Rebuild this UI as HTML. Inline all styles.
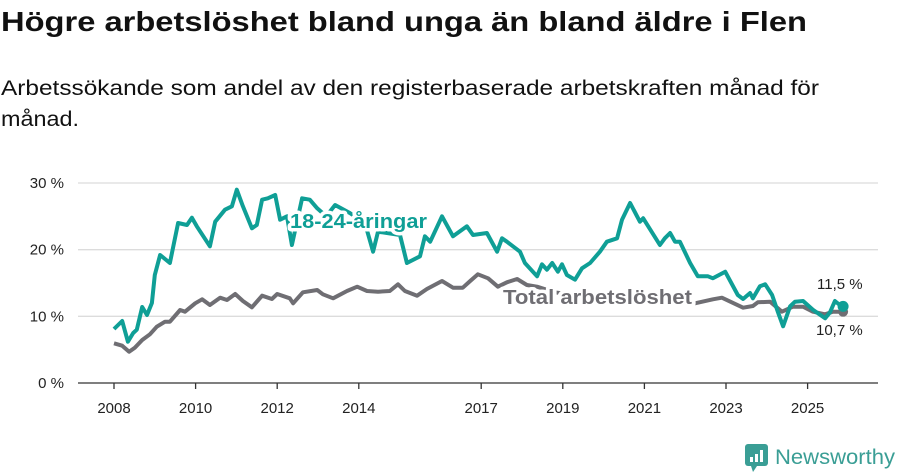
<!DOCTYPE html>
<html><head><meta charset="utf-8"><style>
html,body{margin:0;padding:0;background:#fff;}
svg{display:block;font-family:"Liberation Sans","DejaVu Sans",sans-serif;}
</style></head><body>
<svg id="chart" width="900" height="474" viewBox="0 0 900 474" xmlns="http://www.w3.org/2000/svg">
<text x="1" y="31" font-size="28" font-weight="bold" fill="#111" textLength="806" lengthAdjust="spacingAndGlyphs">Högre arbetslöshet bland unga än bland äldre i Flen</text>
<text x="1" y="95" font-size="21" fill="#111" textLength="818" lengthAdjust="spacingAndGlyphs">Arbetssökande som andel av den registerbaserade arbetskraften månad för</text>
<text x="1" y="126" font-size="21" fill="#111" textLength="78" lengthAdjust="spacingAndGlyphs">månad.</text>
<g id="grid"></g>
<g id="yticks"></g>
<g id="xaxis"></g>
<g id="series"></g>
<g id="labels"></g>
<g>
<rect x="745" y="444" width="23" height="22" rx="3" fill="#3a9e95"/>
<polygon points="751,466 757,466 753,472" fill="#3a9e95"/>
<rect x="750" y="457" width="3" height="5" fill="#fff"/><rect x="755" y="454" width="3" height="8" fill="#fff"/><rect x="760" y="450" width="3" height="12" fill="#fff"/>
<text x="775" y="464" font-size="21" fill="#3a9e95" textLength="120" lengthAdjust="spacingAndGlyphs">Newsworthy</text>
</g>
</svg>
<script>
const yTicks=[0,10,20,30];
const xTickYears=[2008,2010,2012,2014,2017,2019,2021,2023,2025];
const youthDates=[2008.0,2008.2,2008.34,2008.47,2008.56,2008.69,2008.81,2008.93,2009.0,2009.13,2009.37,2009.57,2009.79,2009.91,2010.03,2010.35,2010.48,2010.72,2010.89,2011.01,2011.16,2011.38,2011.5,2011.63,2011.77,2011.95,2012.07,2012.24,2012.36,2012.61,2012.8,2012.98,2013.2,2013.42,2013.78,2014.15,2014.35,2014.47,2015.01,2015.18,2015.5,2015.62,2015.75,2016.04,2016.31,2016.65,2016.8,2017.14,2017.39,2017.51,2017.63,2017.95,2018.07,2018.37,2018.49,2018.61,2018.74,2018.88,2018.98,2019.1,2019.3,2019.47,2019.67,2019.91,2020.08,2020.33,2020.45,2020.65,2020.89,2020.97,2021.38,2021.5,2021.63,2021.75,2021.87,2022.12,2022.31,2022.56,2022.68,2022.98,2023.29,2023.42,2023.59,2023.66,2023.83,2023.96,2024.13,2024.27,2024.4,2024.57,2024.69,2024.89,2025.13,2025.43,2025.55,2025.67,2025.79,2025.87];
const youthValues=[8.1,9.3,6.2,7.5,8.0,11.4,10.2,12.0,16.2,19.2,18.0,24.0,23.7,24.8,23.5,20.5,24.2,26.0,26.5,29.0,26.5,23.2,23.7,27.5,27.7,28.2,24.5,25.0,20.7,27.7,27.5,26.2,25.0,26.7,25.5,24.0,19.7,22.7,22.2,18.0,19.0,22.0,21.2,25.0,22.0,23.5,22.2,22.5,19.7,21.7,21.2,19.7,18.0,16.0,17.8,17.0,18.0,16.7,17.8,16.2,15.5,17.2,18.0,19.7,21.2,21.7,24.5,27.0,24.2,24.7,20.7,21.7,22.5,21.2,21.2,18.0,16.0,16.0,15.7,16.7,13.2,12.6,13.5,12.7,14.5,14.8,13.2,10.7,8.5,11.5,12.2,12.3,11.0,9.7,10.6,12.3,11.7,11.5];
const totalDates=[2008.0,2008.2,2008.37,2008.51,2008.69,2008.88,2009.05,2009.25,2009.37,2009.62,2009.74,2009.99,2010.16,2010.35,2010.6,2010.77,2010.97,2011.16,2011.38,2011.63,2011.87,2012.0,2012.31,2012.39,2012.63,2012.98,2013.12,2013.37,2013.71,2013.96,2014.2,2014.47,2014.76,2014.96,2015.13,2015.43,2015.67,2016.04,2016.31,2016.55,2016.73,2016.92,2017.17,2017.41,2017.63,2017.88,2018.12,2018.37,2018.8,2019.3,2019.8,2020.3,2020.8,2021.3,2021.8,2022.1,2022.24,2022.68,2022.9,2023.42,2023.66,2023.78,2024.08,2024.37,2024.64,2024.89,2025.13,2025.43,2025.62,2025.87];
const totalValues=[5.95,5.6,4.7,5.3,6.45,7.3,8.45,9.2,9.2,10.95,10.7,11.95,12.55,11.7,12.8,12.45,13.35,12.3,11.35,13.1,12.6,13.35,12.7,11.95,13.6,13.95,13.3,12.7,13.8,14.45,13.8,13.7,13.8,14.8,13.8,13.1,14.1,15.3,14.3,14.3,15.3,16.3,15.7,14.45,15.1,15.6,14.7,14.45,13.6,13.2,12.9,13.2,13.6,13.2,12.7,12.2,11.95,12.55,12.8,11.3,11.55,12.1,12.2,10.7,11.45,11.45,10.7,10.3,10.7,10.7];
const youthLast=11.5, totalLast=10.7;

const NS='http://www.w3.org/2000/svg';
const X0=114,PXY=40.8,Y0=383,PXV=200/30;
function xs(d){return X0+(d-2008)*PXY;}
function ys(v){return Y0-v*PXV;}
function mk(tag,attrs,parent){const e=document.createElementNS(NS,tag);for(const k in attrs)e.setAttribute(k,attrs[k]);parent.appendChild(e);return e;}
const grid=document.getElementById('grid'),yt=document.getElementById('yticks'),xa=document.getElementById('xaxis'),ser=document.getElementById('series'),lab=document.getElementById('labels');
yTicks.forEach(v=>{
  if(v>0){const l=mk('line',{x1:78,x2:878,y1:ys(v),y2:ys(v),stroke:'#dcdcdc','stroke-width':1.3},grid);
  
  }
  const t=mk('text',{x:64,y:ys(v)+5,'font-size':15,fill:'#222','text-anchor':'end'},yt);
  t.textContent=v+' %';
  
  
});
const ax=mk('line',{x1:78,x2:878,y1:Y0,y2:Y0,stroke:'#333','stroke-width':1.3},xa);


xTickYears.forEach(y=>{
  const tk=mk('line',{x1:xs(y),x2:xs(y),y1:Y0,y2:Y0+6,stroke:'#333','stroke-width':1.3},xa);
  
  
  const t=mk('text',{x:xs(y),y:413,'font-size':15,fill:'#222','text-anchor':'middle'},xa);
  t.textContent=y;
  
  
});
function path(ds,vs){return ds.map((d,i)=>(i?'L':'M')+xs(d).toFixed(1)+','+ys(vs[i]).toFixed(1)).join('');}
const tl=mk('path',{d:path(totalDates,totalValues),fill:'none',stroke:'#6f6e73','stroke-width':4,'stroke-linejoin':'round'},ser);


const yl=mk('path',{d:path(youthDates,youthValues),fill:'none',stroke:'#0f9f96','stroke-width':4,'stroke-linejoin':'round'},ser);


const lastD=youthDates[youthDates.length-1];
const tdot=mk('circle',{cx:xs(totalDates[totalDates.length-1]),cy:ys(totalLast),r:5,fill:'#6f6e73'},ser);


const ydot=mk('circle',{cx:xs(lastD),cy:ys(youthLast),r:5.5,fill:'#0f9f96'},ser);


function label(txt,x,y,size,fill,bold,name,halo,len){
  const extra=len?{textLength:len,lengthAdjust:'spacingAndGlyphs'}:{};
  if(halo){const h=mk('text',Object.assign({x:x,y:y,'font-size':size,'font-weight':bold?'bold':'normal',fill:'#fff',stroke:'#fff','stroke-width':7,'stroke-linejoin':'round'},extra),lab);h.textContent=txt;
  
  }
  const t=mk('text',Object.assign({x:x,y:y,'font-size':size,'font-weight':bold?'bold':'normal',fill:fill},extra),lab);t.textContent=txt;
  
  
}
label('18-24-åringar',290,228,20,'#0f9f96',true,'youth-label',true,137);
label('Total arbetslöshet',503,304,20,'#6f6e73',true,'total-label',true,189);
label('11,5 %',817,289,15,'#222',false,'youth-end-value',false,0);
label('10,7 %',816,335,15,'#222',false,'total-end-value',false,0);
</script>
</body></html>
